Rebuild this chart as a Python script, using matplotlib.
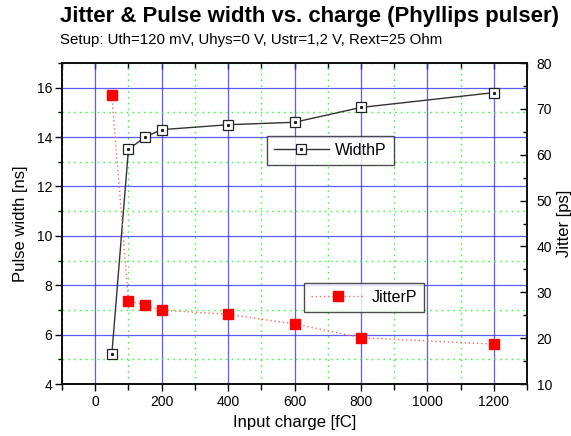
import matplotlib
matplotlib.use("Agg")
import matplotlib.pyplot as plt
from matplotlib.ticker import MultipleLocator
from matplotlib.legend_handler import HandlerTuple

# Measurement data
charge_fc = [50, 100, 150, 200, 400, 600, 800, 1200]
width_ns = [5.2, 13.5, 14.0, 14.3, 14.5, 14.6, 15.2, 15.8]
jitter_ps = [73.0, 28.2, 27.2, 26.1, 25.2, 23.1, 20.1, 18.7]

title = "Jitter & Pulse width vs. charge (Phyllips pulser)"
subtitle = "Setup: Uth=120 mV, Uhys=0 V, Ustr=1,2 V, Rext=25 Ohm"

plt.rcParams["font.family"] = ["Liberation Sans", "DejaVu Sans"]

fig = plt.figure(figsize=(5.71, 4.36), dpi=100)
ax = fig.add_axes([62 / 571, 1 - 384 / 436, 465 / 571, 321 / 436])
ax2 = ax.twinx()

# Axis ranges and ticks
ax.set_xlim(-100, 1300)
ax.set_ylim(4, 17)
ax2.set_ylim(10, 80)
ax.xaxis.set_major_locator(MultipleLocator(200))
ax.xaxis.set_minor_locator(MultipleLocator(100))
ax.yaxis.set_major_locator(MultipleLocator(2))
ax.yaxis.set_minor_locator(MultipleLocator(1))
ax2.yaxis.set_major_locator(MultipleLocator(10))
ax2.yaxis.set_minor_locator(MultipleLocator(5))

# Grid: blue solid majors, green dotted minors
ax.grid(True, which="major", color="#3333ff", lw=0.9, alpha=0.8)
ax.grid(True, which="minor", color="#33ff33", lw=1.0, ls=(0, (1.2, 3)))
ax.set_axisbelow(True)

for a in (ax, ax2):
    for s in a.spines.values():
        s.set_linewidth(1.3)
        s.set_color("#111111")

ax.tick_params(axis="y", which="major", direction="out", length=5, width=1, pad=2, labelsize=10)
ax.tick_params(axis="y", which="minor", direction="out", length=3, width=1)
ax.tick_params(axis="x", which="major", direction="out", length=5, width=1, pad=3, labelsize=10)
ax.tick_params(axis="x", which="minor", direction="out", length=4, width=1)
ax2.tick_params(axis="y", which="major", direction="in", length=5, width=1, pad=7, labelsize=10)
ax2.tick_params(axis="y", which="minor", direction="in", length=3, width=1)

# Mirror ticks on the top edge
top = ax.secondary_xaxis("top")
top.xaxis.set_major_locator(MultipleLocator(200))
top.xaxis.set_minor_locator(MultipleLocator(100))
top.tick_params(which="both", direction="in", length=4, width=1, labeltop=False)
top.spines["top"].set_linewidth(1.3)

# Pulse width (left axis)
w_line, = ax.plot(charge_fc, width_ns, color="#333333", lw=1.0, marker="s", ms=6.5,
                  mfc="white", mec="#222222", mew=0.9, zorder=3)
w_dot, = ax.plot(charge_fc, width_ns, ls="none", marker="s", ms=1.2,
                 mfc="#222222", mec="#222222", zorder=4)

# Jitter (right axis)
j_line, = ax2.plot(charge_fc, jitter_ps, color="#ff6666", lw=1.0, ls=(0, (1, 2)), zorder=3)
j_mark, = ax2.plot(charge_fc, jitter_ps, ls="none", marker="s", ms=7, mfc="red", mec="red", zorder=4)

ax.set_xlabel("Input charge [fC]", fontsize=12, labelpad=4)
ax.set_ylabel("Pulse width [ns]", fontsize=12, labelpad=6)
ax2.set_ylabel("Jitter [ps]", fontsize=12, labelpad=3)

leg_kw = dict(frameon=True, fancybox=False, fontsize=11.5, handlelength=3.4,
              borderpad=0.45, handletextpad=0.4, borderaxespad=0,
              handler_map={tuple: HandlerTuple(ndivide=1, pad=0)})
leg1 = ax2.legend([(w_line, w_dot)], ["WidthP"], loc="upper left",
                  bbox_to_anchor=(0.441, 0.773), **leg_kw)
leg1.get_frame().set_edgecolor("#222222")
leg1.get_frame().set_linewidth(1.0)
ax2.add_artist(leg1)
leg2 = ax2.legend([(j_line, j_mark)], ["JitterP"], loc="upper left",
                  bbox_to_anchor=(0.52, 0.315), **leg_kw)
leg2.get_frame().set_edgecolor("#222222")
leg2.get_frame().set_linewidth(1.0)

fig.text(60 / 571, 1 - 22 / 436, title, fontsize=15.9, fontweight="bold", ha="left", va="baseline")
fig.text(60 / 571, 1 - 44 / 436, subtitle, fontsize=10.8, ha="left", va="baseline")

fig.savefig("out.png", dpi=100)
